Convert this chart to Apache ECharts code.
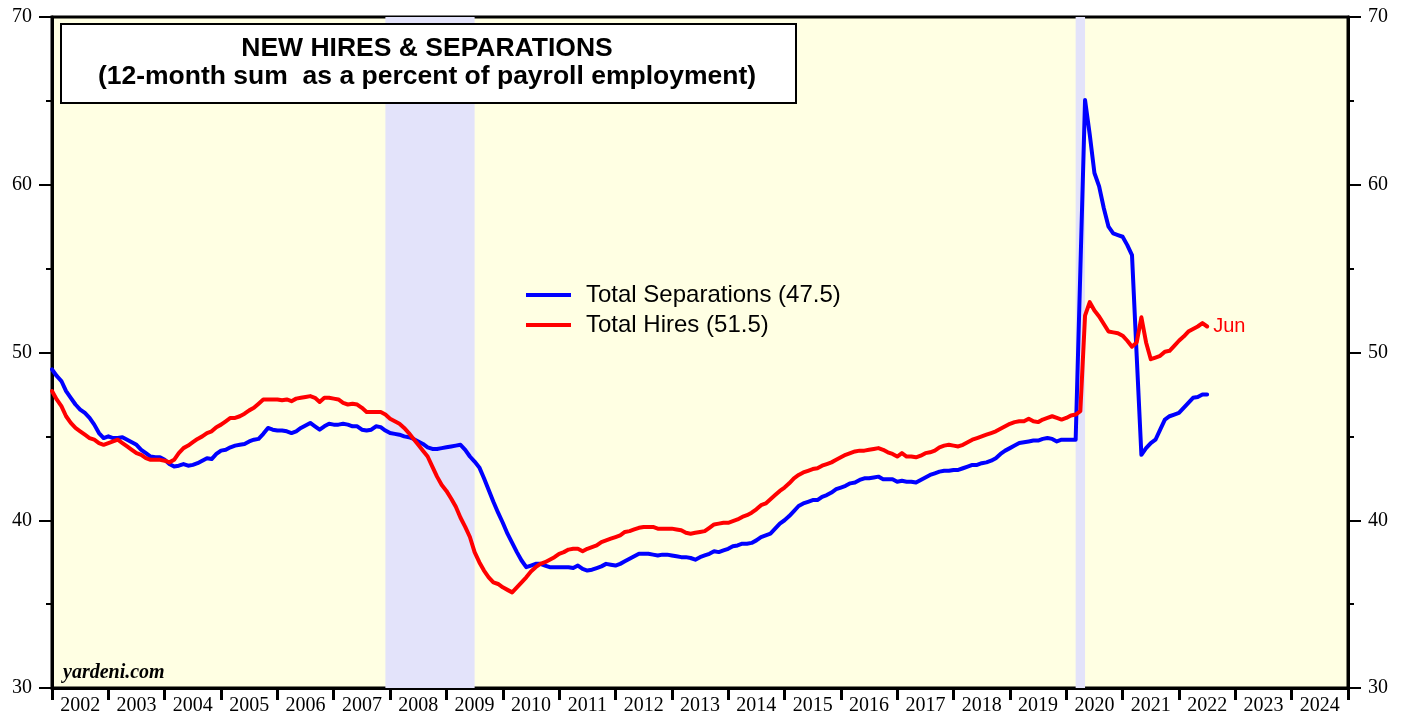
<!DOCTYPE html>
<html>
<head>
<meta charset="utf-8">
<script src="https://cdn.jsdelivr.net/npm/echarts@6/dist/echarts.min.js"></script>
<style>
html,body{margin:0;padding:0;background:#fff;}
#chart{width:1408px;height:719px;}
</style>
</head>
<body>
<div id="chart"></div>
<script>
// Monthly data, 12-month sums as % of payroll employment, Dec 2001 .. Jun 2022
const startYear = 2001, startMonth = 12;
const yearLabels = ['2002','2003','2004','2005','2006','2007','2008','2009','2010','2011','2012','2013','2014','2015','2016','2017','2018','2019','2020','2021','2022','2023','2024'];
const yTicks = [30, 40, 50, 60, 70];

const separations = [
  49.0,
  48.6, 48.3, 47.7, 47.3, 46.9, 46.6, 46.4, 46.1, 45.7, 45.2, 44.9, 45.0,
  44.9, 44.9, 44.95, 44.8, 44.65, 44.5, 44.2, 44.0, 43.8, 43.75, 43.75, 43.6,
  43.35, 43.2, 43.25, 43.35, 43.25, 43.3, 43.4, 43.55, 43.7, 43.65, 43.95, 44.15,
  44.2, 44.35, 44.45, 44.5, 44.55, 44.7, 44.8, 44.85, 45.15, 45.5, 45.4, 45.35,
  45.35, 45.3, 45.2, 45.3, 45.5, 45.65, 45.8, 45.6, 45.4, 45.6, 45.75, 45.7,
  45.7, 45.75, 45.7, 45.6, 45.6, 45.4, 45.35, 45.4, 45.6, 45.55, 45.35, 45.2,
  45.15, 45.1, 45.0, 44.95, 44.85, 44.7, 44.55, 44.35, 44.25, 44.25, 44.3, 44.35,
  44.4, 44.45, 44.5, 44.2, 43.8, 43.5, 43.15, 42.5, 41.8, 41.1, 40.45, 39.85,
  39.2, 38.65, 38.1, 37.6, 37.2, 37.3, 37.4, 37.4, 37.3, 37.2, 37.2, 37.2,
  37.2, 37.2, 37.15, 37.3, 37.1, 37.0, 37.05, 37.15, 37.25, 37.4, 37.35, 37.3,
  37.4, 37.55, 37.7, 37.85, 38.0, 38.0, 38.0, 37.95, 37.9, 37.95, 37.95, 37.9,
  37.85, 37.8, 37.8, 37.75, 37.65, 37.8, 37.9, 38.0, 38.15, 38.1, 38.2, 38.3,
  38.45, 38.5, 38.6, 38.6, 38.65, 38.8, 39.0, 39.1, 39.2, 39.5, 39.8, 40.0,
  40.25, 40.55, 40.85, 41.0, 41.1, 41.2, 41.2, 41.4, 41.5, 41.65, 41.85, 41.95,
  42.05, 42.2, 42.25, 42.4, 42.5, 42.5, 42.55, 42.6, 42.45, 42.45, 42.45, 42.3,
  42.35, 42.3, 42.3, 42.25, 42.4, 42.55, 42.7, 42.8, 42.9, 42.95, 42.95, 43.0,
  43.0, 43.1, 43.2, 43.3, 43.3, 43.4, 43.45, 43.55, 43.7, 43.95, 44.15, 44.3,
  44.45, 44.6, 44.65, 44.7, 44.75, 44.75, 44.85, 44.9, 44.85, 44.7, 44.8, 44.8,
  44.8, 44.8, 54.9, 65.05, 63.0, 60.7, 59.9, 58.6, 57.5, 57.1, 57.0, 56.9,
  56.4, 55.8, 49.8, 43.9, 44.3, 44.6, 44.8, 45.4, 46.0, 46.2, 46.3, 46.4,
  46.7, 47.0, 47.3, 47.35, 47.5, 47.5
];

const hires = [
  47.7,
  47.2, 46.8, 46.2, 45.8, 45.5, 45.3, 45.1, 44.9, 44.8, 44.6, 44.5, 44.6,
  44.7, 44.8, 44.6, 44.4, 44.2, 44.0, 43.9, 43.7, 43.6, 43.6, 43.6, 43.55,
  43.45, 43.6, 44.0, 44.3, 44.45, 44.65, 44.85, 45.0, 45.2, 45.3, 45.55, 45.7,
  45.9, 46.1, 46.1, 46.2, 46.35, 46.55, 46.7, 46.95, 47.2, 47.2, 47.2, 47.2,
  47.15, 47.2, 47.1, 47.25, 47.3, 47.35, 47.4, 47.3, 47.05, 47.3, 47.3, 47.25,
  47.2, 47.0, 46.9, 46.95, 46.9, 46.7, 46.45, 46.45, 46.45, 46.45, 46.3, 46.05,
  45.9, 45.75, 45.5, 45.2, 44.85, 44.5, 44.15, 43.8, 43.2, 42.6, 42.1, 41.75,
  41.3, 40.8, 40.15, 39.6, 39.0, 38.1, 37.5, 37.0, 36.6, 36.3, 36.2, 36.0,
  35.85, 35.7, 36.0, 36.3, 36.6, 36.95, 37.2, 37.4, 37.5, 37.65, 37.8, 38.0,
  38.1, 38.25, 38.3, 38.3, 38.15, 38.3, 38.4, 38.5, 38.7, 38.8, 38.9, 39.0,
  39.1, 39.3, 39.35, 39.45, 39.55, 39.6, 39.6, 39.6, 39.5, 39.5, 39.5, 39.5,
  39.45, 39.4, 39.25, 39.2, 39.25, 39.3, 39.35, 39.55, 39.75, 39.8, 39.85, 39.85,
  39.95, 40.05, 40.2, 40.3, 40.45, 40.65, 40.9, 41.0, 41.25, 41.5, 41.75, 41.95,
  42.2, 42.5, 42.7, 42.85, 42.95, 43.05, 43.1, 43.25, 43.35, 43.45, 43.6, 43.75,
  43.9, 44.0, 44.1, 44.15, 44.15, 44.2, 44.25, 44.3, 44.2, 44.05, 43.95, 43.8,
  44.0, 43.8, 43.8, 43.75, 43.85, 44.0, 44.05, 44.15, 44.35, 44.45, 44.5, 44.45,
  44.4, 44.5, 44.65, 44.8, 44.9, 45.0, 45.1, 45.2, 45.3, 45.45, 45.6, 45.75,
  45.85, 45.9, 45.9, 46.05, 45.9, 45.85, 46.0, 46.1, 46.2, 46.1, 46.0, 46.1,
  46.25, 46.3, 46.5, 52.2, 53.0, 52.5, 52.15, 51.7, 51.25, 51.2, 51.15, 51.0,
  50.7, 50.35, 50.6, 52.1, 50.6, 49.6, 49.7, 49.8, 50.05, 50.1, 50.4, 50.7,
  50.95, 51.25, 51.4, 51.55, 51.75, 51.55
];

// recessions (decimal years): Dec 2007 - Jun 2009, Mar 2020 - Apr 2020
const recessions = [[2007 + 11/12, 2009.5], [2020 + 2/12, 2020 + 4/12]];

const legendNames = ['Total Separations (47.5)', 'Total Hires (51.5)'];

// each monthly value plotted at the end of its month
function toPoints(vals) {
  return vals.map((v, i) => [startYear + (startMonth + i) / 12, v]);
}

const SERIF = "'Liberation Serif','Times New Roman',serif";
const SANS = "'Liberation Sans',Arial,sans-serif";

const chart = echarts.init(document.getElementById('chart'), null, {renderer: 'canvas'});

const yAxisCommon = {
  type: 'value', min: 30, max: 70, interval: 10,
  axisLine: {show: true, lineStyle: {color: '#000', width: 3}},
  axisTick: {show: true, inside: false, length: 13, lineStyle: {color: '#000', width: 2}},
  minorTick: {show: true, splitNumber: 2, length: 6, lineStyle: {color: '#000', width: 2}},
  splitLine: {show: false},
  axisLabel: {color: '#000', fontFamily: SERIF, fontSize: 20, margin: 20,
    formatter: v => (yTicks.indexOf(v) >= 0 ? String(v) : '')}
};

chart.setOption({
  animation: false,
  backgroundColor: '#ffffff',
  grid: {left: 52, right: 60, top: 17, bottom: 31, show: true,
    backgroundColor: '#FFFFE3', borderColor: '#000', borderWidth: 3},
  xAxis: [
    {type: 'value', min: 2002, max: 2025, interval: 1, show: false},
    {type: 'category', data: yearLabels, position: 'bottom', boundaryGap: true,
      axisLine: {show: true, lineStyle: {color: '#000', width: 3}},
      axisTick: {show: true, inside: false, length: 12, interval: 0, alignWithLabel: false,
        lineStyle: {color: '#000', width: 3}},
      axisLabel: {color: '#000', fontFamily: SERIF, fontSize: 20, margin: 8, interval: 0},
      splitLine: {show: false}}
  ],
  yAxis: [
    Object.assign({}, yAxisCommon, {position: 'left'}),
    Object.assign({}, yAxisCommon, {position: 'right'})
  ],
  legend: {
    orient: 'vertical', left: 526, top: 283, padding: 0,
    icon: 'rect', itemWidth: 45, itemHeight: 4, itemGap: 6,
    textStyle: {fontFamily: SANS, fontSize: 24, color: '#000', lineHeight: 24, padding: [0, 0, 0, 10]},
    data: legendNames
  },
  series: [
    {
      name: legendNames[0], type: 'line', xAxisIndex: 0, yAxisIndex: 0,
      data: toPoints(separations), showSymbol: false, symbol: 'none',
      lineStyle: {color: '#0000FF', width: 4, join: 'round', cap: 'round'},
      itemStyle: {color: '#0000FF'},
      z: 3,
      markArea: {
        silent: true,
        itemStyle: {color: '#E3E3FA'},
        data: recessions.map(r => [{xAxis: r[0]}, {xAxis: r[1]}])
      }
    },
    {
      name: legendNames[1], type: 'line', xAxisIndex: 0, yAxisIndex: 0,
      data: toPoints(hires), showSymbol: false, symbol: 'none',
      lineStyle: {color: '#FF0000', width: 4, join: 'round', cap: 'round'},
      itemStyle: {color: '#FF0000'},
      z: 4,
      endLabel: {show: true, formatter: 'Jun', color: '#FF0000', fontFamily: SANS, fontSize: 20, distance: 6}
    }
  ],
  graphic: [
    {type: 'rect', left: 60, top: 23, z: 10,
      shape: {width: 735, height: 79},
      style: {fill: '#fff', stroke: '#000', lineWidth: 2}},
    {type: 'text', x: 427, y: 49, z: 11,
      style: {text: 'NEW HIRES & SEPARATIONS', fill: '#000', font: 'bold 26.5px ' + SANS,
        textAlign: 'center', textVerticalAlign: 'middle'}},
    {type: 'text', x: 427, y: 77, z: 11,
      style: {text: '(12-month sum  as a percent of payroll employment)', fill: '#000', font: 'bold 26.5px ' + SANS,
        textAlign: 'center', textVerticalAlign: 'middle'}},
    {type: 'text', x: 63, y: 673, z: 11,
      style: {text: 'yardeni.com', fill: '#000', font: 'italic bold 20px ' + SERIF,
        textAlign: 'left', textVerticalAlign: 'middle'}}
  ]
});
</script>
</body>
</html>
